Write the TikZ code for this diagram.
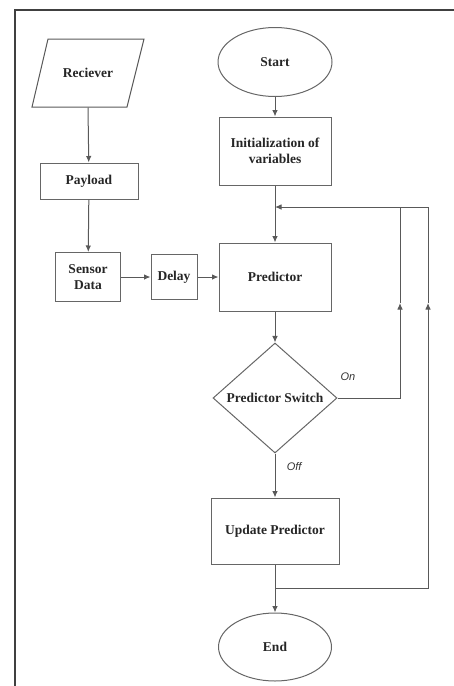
\documentclass[tikz,border=0pt]{standalone}
\usepackage{fontspec}
\setmainfont{Liberation Serif}
\newfontfamily\lblfont{Liberation Sans}
\usetikzlibrary{arrows.meta,shapes.geometric}
\tikzset{
  line/.style={draw=black!65, line width=1pt},
  arr/.style={line, -{Latex[length=6.5pt,width=5.5pt]}},
  boxn/.style={draw=black!60, line width=1pt, rectangle, inner sep=0pt, align=center,
    font=\fontsize{13.5}{16}\selectfont\bfseries, text=black!85},
  ovaln/.style={boxn, ellipse},
  dian/.style={boxn, diamond, minimum width=124pt, minimum height=110pt},
  lbl/.style={font=\lblfont\itshape\fontsize{11}{12}\selectfont, text=black!80},
}
\begin{document}
\begin{tikzpicture}[x=1pt,y=-1pt]
\useasboundingbox (0,0) rectangle (454,686);
% frame
\draw[draw=black!75, line width=1.2pt] (15,686) -- (15,10) -- (454,10);
% left column
\draw[line] (48,39) -- (144,39) -- (127,107) -- (32,107) -- cycle;
\node[boxn, draw=none, minimum width=80pt, minimum height=68pt] (rec) at (88,73) {Reciever};
\node[boxn, minimum width=98pt, minimum height=36pt] (pay) at (89,181) {Payload};
\node[boxn, minimum width=65pt, minimum height=49pt] (sens) at (88,277) {Sensor\\Data};
\node[boxn, minimum width=46pt, minimum height=45pt] (delay) at (174,277) {Delay};
% main column
\node[ovaln, minimum width=114pt, minimum height=69pt] (start) at (275,62) {Start};
\node[boxn, minimum width=112pt, minimum height=68pt] (init) at (275,151) {Initialization of\\variables};
\node[boxn, minimum width=112pt, minimum height=68pt] (pred) at (275,277) {Predictor};
\node[dian] (sw) at (275,398) {Predictor Switch};
\node[boxn, minimum width=128pt, minimum height=66pt] (upd) at (275,531) {Update Predictor};
\node[ovaln, minimum width=113pt, minimum height=68pt] (end) at (275,647) {End};
% coordinates
\coordinate (jt) at (275,207);
\coordinate (jb) at (275,588);
\coordinate (r1t) at (400,207);
\coordinate (r2t) at (428,207);
\coordinate (r1m) at (400,303);
\coordinate (r2m) at (428,303);
% connectors
\draw[arr] (rec.south) -- (pay);
\draw[arr] (pay) -- (sens);
\draw[arr] (sens) -- (delay);
\draw[arr] (delay) -- (pred);
\draw[arr] (start) -- (init);
\draw[arr] (init) -- (pred);
\draw[arr] (r2t) -- (jt);
\draw[arr] (pred) -- (sw);
\draw[arr] (sw.east) -| (r1m);
\draw[line] (r1m) -- (r1t);
\draw[arr] (sw) -- node[lbl, pos=0.3, right=8pt] {Off} (upd);
\draw[arr] (upd) -- (end);
\draw[arr] (jb) -| (r2m);
\draw[line] (r2m) -- (r2t);
\node[lbl] (on) at (348,377) {On};
\end{tikzpicture}
\end{document}
